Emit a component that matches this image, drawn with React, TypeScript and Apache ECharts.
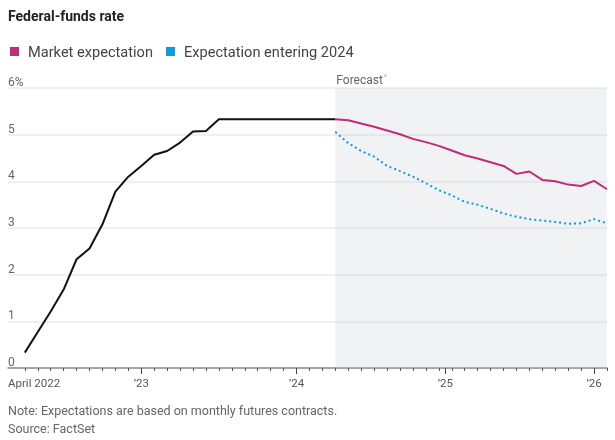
import React, { useEffect, useRef } from 'react';
import * as echarts from 'echarts';

// x values are months counted from April 2022 (= 0)
const AXIS_MIN = -1.3;
const AXIS_MAX = 45;

const actualStartMonth = 0; // April 2022
const actualRate = [
  0.33, 0.77, 1.21, 1.68, 2.33, 2.56, 3.08, 3.78, 4.1, 4.33, 4.57, 4.65, 4.83,
  5.07, 5.08, 5.33, 5.33, 5.33, 5.33, 5.33, 5.33, 5.33, 5.33, 5.33, 5.33,
];

const forecastStartMonth = 24; // April 2024
const marketExpectation = [
  5.33, 5.31, 5.24, 5.17, 5.09, 5.01, 4.91, 4.84, 4.76, 4.66, 4.56, 4.49, 4.41,
  4.33, 4.16, 4.21, 4.03, 4.0, 3.93, 3.9, 4.01, 3.83,
];
const expectationEntering2024 = [
  5.06, 4.82, 4.65, 4.53, 4.33, 4.22, 4.1, 3.96, 3.81, 3.7, 3.56, 3.5, 3.41,
  3.31, 3.24, 3.19, 3.16, 3.13, 3.09, 3.1, 3.19, 3.1,
];

const monthTickValues = [
  0, 1, 2, 3, 4, 5, 6, 7, 8, 9, 10, 11, 12, 13, 14, 15, 16, 17, 18, 19, 20, 21,
  22, 23, 24, 25, 26, 27, 28, 29, 30, 31, 32, 33, 34, 35, 36, 37, 38, 39, 40,
  41, 42, 43, 44, 45,
];
const yearTickValues = [9, 21, 32.5, 44];
const xLabelValues = [AXIS_MIN, 9, 21, 32.5, 44];
const xLabelTexts = ['April 2022', '\u201923', '\u201924', '\u201925', '\u201926'];

const Y_MIN = 0;
const Y_MAX = 6;

const FONT = 'Roboto, "Noto Sans", sans-serif';
const MAGENTA = '#c12c78';
const BLUE = '#0a9be0';

export default function App() {
  const ref = useRef<HTMLDivElement>(null);

  useEffect(() => {
    if (!ref.current) return;
    const chart = echarts.init(ref.current, undefined, { renderer: 'svg' });

    const labelFor = (v: number) => {
      const idx = xLabelValues.findIndex((x) => Math.abs(x - v) < 1e-6);
      return idx >= 0 ? xLabelTexts[idx] : '';
    };

    chart.setOption({
      animation: false,
      textStyle: { fontFamily: FONT },
      title: [
        {
          text: 'Federal-funds rate',
          left: 8,
          top: 9,
          padding: 0,
          textStyle: { fontSize: 14, fontWeight: 'bold', color: '#222', fontFamily: FONT },
        },
        {
          text: 'Note: Expectations are based on monthly futures contracts.\nSource: FactSet',
          left: 8,
          top: 401,
          padding: 0,
          textStyle: { fontSize: 12.5, fontWeight: 'normal', color: '#666', lineHeight: 18, fontFamily: FONT },
        },
      ],
      legend: {
        left: 10,
        top: 44,
        padding: 0,
        icon: 'rect',
        itemWidth: 9,
        itemHeight: 9,
        itemGap: 13,
        selectedMode: false,
        textStyle: { fontSize: 14.6, color: '#444', fontFamily: FONT, padding: [0, 0, 0, 4] },
        data: [
          { name: 'Market expectation', itemStyle: { color: MAGENTA } },
          { name: 'Expectation entering 2024', itemStyle: { color: BLUE } },
        ],
      },
      grid: { left: 8, right: 8, top: 88, bottom: 72, outerBoundsMode: 'none' },
      xAxis: [
        {
          type: 'value',
          min: AXIS_MIN,
          max: AXIS_MAX,
          position: 'bottom',
          axisLine: { show: true, lineStyle: { color: '#8a8a8a', width: 1.5 } },
          axisTick: {
            show: true,
            customValues: monthTickValues,
            length: 3,
            lineStyle: { color: '#555', width: 1 },
          },
          axisLabel: {
            show: true,
            customValues: xLabelValues,
            formatter: labelFor,
            alignMinLabel: 'left',
            margin: 9,
            fontSize: 11.5,
            color: '#555',
            fontFamily: FONT,
          },
          splitLine: { show: false },
        },
        {
          type: 'value',
          min: AXIS_MIN,
          max: AXIS_MAX,
          position: 'bottom',
          offset: 0,
          axisLine: { show: false },
          axisTick: {
            show: true,
            customValues: yearTickValues,
            length: 6,
            lineStyle: { color: '#444', width: 1 },
          },
          axisLabel: { show: false },
          splitLine: { show: false },
        },
      ],
      yAxis: {
        type: 'value',
        min: Y_MIN,
        max: Y_MAX,
        interval: 1,
        axisLine: { show: false },
        axisTick: { show: false },
        axisLabel: {
          inside: true,
          margin: 0,
          verticalAlign: 'bottom',
          fontSize: 12,
          color: '#666',
          fontFamily: FONT,
          formatter: (v: number) => (v === Y_MAX ? `${v}%` : `${v}`),
        },
        splitLine: { show: true, lineStyle: { color: '#ebebeb', width: 1.5 } },
      },
      series: [
        {
          name: 'Market expectation',
          type: 'line',
          xAxisIndex: 0,
          silent: true,
          symbol: 'none',
          color: MAGENTA,
          lineStyle: { color: MAGENTA, width: 2 },
          data: marketExpectation.map((v, i) => [forecastStartMonth + i, v]),
          markArea: {
            silent: true,
            itemStyle: { color: 'rgba(199,203,211,0.25)' },
            label: {
              show: true,
              position: [1, -15],
              formatter: '{a|Forecast}{s|*}',
              rich: {
                a: { fontSize: 12, color: '#666', fontFamily: FONT },
                s: { fontSize: 7, color: '#aaa', verticalAlign: 'top', padding: [0, 0, 6, 1], fontFamily: FONT },
              },
            },
            data: [[{ xAxis: forecastStartMonth, yAxis: Y_MAX }, { xAxis: AXIS_MAX, yAxis: Y_MIN }]],
          },
          z: 3,
        },
        {
          name: 'Expectation entering 2024',
          type: 'line',
          xAxisIndex: 0,
          silent: true,
          symbol: 'none',
          color: BLUE,
          lineStyle: { color: BLUE, width: 2, type: [2, 3] },
          data: expectationEntering2024.map((v, i) => [forecastStartMonth + i, v]),
          z: 3,
        },
        {
          name: 'Federal-funds rate',
          type: 'line',
          xAxisIndex: 0,
          silent: true,
          symbol: 'none',
          color: '#111',
          lineStyle: { color: '#111', width: 2 },
          data: actualRate.map((v, i) => [actualStartMonth + i, v]),
          z: 4,
        },
      ],
    });

    return () => chart.dispose();
  }, []);

  return (
    <div
      ref={ref}
      style={{ position: 'fixed', left: 0, top: 0, width: 615, height: 440 }}
    />
  );
}
